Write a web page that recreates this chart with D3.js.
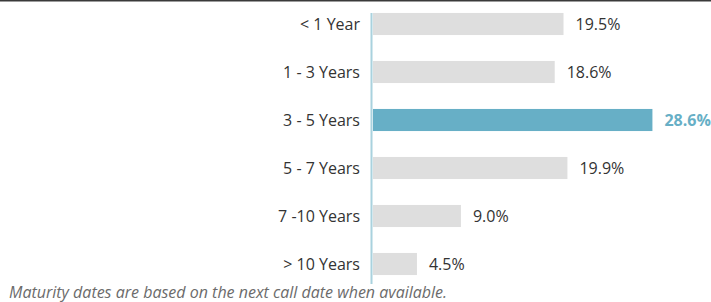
<!DOCTYPE html>
<html>
<head>
<meta charset="utf-8">
<script src="https://cdn.jsdelivr.net/npm/d3@7"></script>
<style>
  body { margin: 0; background: #fff; }
  svg { display: block; font-family: "Open Sans", sans-serif; }
</style>
</head>
<body>
<div id="chart"></div>
<script>
const categories = ['< 1 Year', '1 - 3 Years', '3 - 5 Years', '5 - 7 Years', '7 -10 Years', '> 10 Years'];
const values = [19.5, 18.6, 28.6, 19.9, 9.0, 4.5];
const highlight = '3 - 5 Years';
const footnote = 'Maturity dates are based on the next call date when available.';

const width = 711, height = 302;
const margin = { top: 0, left: 372, bottom: 0 };

const data = categories.map((c, i) => ({ category: c, value: values[i] }));

const svg = d3.select('#chart')
  .append('svg')
    .attr('width', width)
    .attr('height', height);

// top rule
svg.append('line')
  .attr('x1', 0).attr('x2', width)
  .attr('y1', 0.75).attr('y2', 0.75)
  .attr('stroke', '#3a3a3a')
  .attr('stroke-width', 1.5);

const y = d3.scaleBand()
  .domain(categories)
  .range([0, 288])
  .paddingInner(0.54)
  .paddingOuter(0.27);

const x = d3.scaleLinear()
  .domain([0, 10])
  .range([margin.left + 1, margin.left + 1 + 97.7]);

svg.selectAll('rect.bar')
  .data(data)
  .enter()
    .append('rect')
    .attr('class', 'bar')
    .attr('x', x(0))
    .attr('y', d => y(d.category))
    .attr('width', d => x(d.value) - x(0))
    .attr('height', y.bandwidth())
    .attr('fill', d => d.category === highlight ? '#67afc6' : '#dedede');

// axis line
svg.append('line')
  .attr('x1', margin.left - 0.5).attr('x2', margin.left - 0.5)
  .attr('y1', y(categories[0])).attr('y2', y(categories[categories.length - 1]) + y.bandwidth() + 9)
  .attr('stroke', '#a9d2de')
  .attr('stroke-width', 2);

svg.selectAll('text.cat')
  .data(data)
  .enter()
    .append('text')
    .attr('class', 'cat')
    .attr('x', margin.left - 12)
    .attr('y', d => y(d.category) + y.bandwidth() / 2)
    .attr('dy', '0.36em')
    .attr('text-anchor', 'end')
    .attr('font-size', 16)
    .attr('fill', '#333')
    .text(d => d.category);

svg.selectAll('text.val')
  .data(data)
  .enter()
    .append('text')
    .attr('class', 'val')
    .attr('x', d => x(d.value) + 12)
    .attr('y', d => y(d.category) + y.bandwidth() / 2)
    .attr('dy', '0.36em')
    .attr('font-size', 16)
    .attr('font-weight', d => d.category === highlight ? 700 : 400)
    .attr('fill', d => d.category === highlight ? '#67afc6' : '#333')
    .text(d => d.value.toFixed(1) + '%');

svg.append('text')
  .attr('x', 9)
  .attr('y', 298)
  .attr('font-size', 16)
  .attr('font-style', 'italic')
  .attr('fill', '#6b6b6b')
  .text(footnote);
</script>
</body>
</html>
